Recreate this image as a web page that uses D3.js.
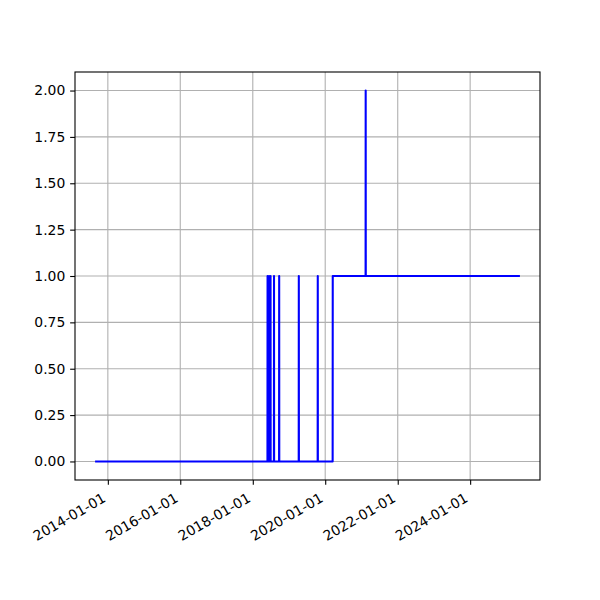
<!DOCTYPE html>
<html>
<head>
<meta charset="utf-8">
<script src="https://cdn.jsdelivr.net/npm/d3@7"></script>
<style>
  html, body { margin: 0; padding: 0; background: #fff; }
  text { font-family: "DejaVu Sans", sans-serif; }
</style>
</head>
<body>
<svg id="chart" width="600" height="600"></svg>
<script>
// ---- data ----
const dates = [
  "2013-09-05",
  "2018-05-29", "2018-05-30", "2018-05-31",
  "2018-06-13", "2018-06-14", "2018-06-15",
  "2018-06-28", "2018-06-29", "2018-06-30",
  "2018-08-02", "2018-08-03", "2018-08-04",
  "2018-09-23", "2018-09-24", "2018-09-25",
  "2019-04-09", "2019-04-10", "2019-04-11",
  "2019-10-17", "2019-10-18", "2019-10-19",
  "2020-03-16", "2020-03-17",
  "2021-02-11", "2021-02-12", "2021-02-13",
  "2025-05-06"
];
const values = [
  0,
  0, 1, 0,
  0, 1, 0,
  0, 1, 0,
  0, 1, 0,
  0, 1, 0,
  0, 1, 0,
  0, 1, 0,
  0, 1,
  1, 2, 1,
  1
];
const xTickLabels = ["2014-01-01", "2016-01-01", "2018-01-01", "2020-01-01", "2022-01-01", "2024-01-01"];
const yTickValues = [0, 0.25, 0.5, 0.75, 1.0, 1.25, 1.5, 1.75, 2.0];

(function () {
  // ---- layout ----
  const W = 600, H = 600;
  const mLeft = 75, mRight = 540, mTop = 72, mBottom = 480;
  const fs = 13.9;

  const parse = d3.timeParse("%Y-%m-%d");
  const pts = dates.map((d, i) => ({ t: parse(d), v: values[i] }));

  const tExt = d3.extent(pts, d => d.t);
  const span = tExt[1] - tExt[0];
  const x = d3.scaleTime()
    .domain([new Date(+tExt[0] - span * 0.05), new Date(+tExt[1] + span * 0.05)])
    .range([mLeft, mRight]);
  const vMin = d3.min(values), vMax = d3.max(values);
  const vSpan = vMax - vMin;
  const y = d3.scaleLinear()
    .domain([vMin - vSpan * 0.05, vMax + vSpan * 0.05])
    .range([mBottom, mTop]);

  const svg = d3.select("#chart");
  svg.append("rect").attr("width", W).attr("height", H).attr("fill", "#fff");

  const xTicks = xTickLabels.map(parse);

  // grid
  const grid = svg.append("g").attr("stroke", "#b0b0b0").attr("stroke-width", 1.1);
  grid.selectAll("line.gx").data(xTicks).join("line").attr("class", "gx")
    .attr("x1", d => x(d)).attr("x2", d => x(d))
    .attr("y1", mTop).attr("y2", mBottom);
  grid.selectAll("line.gy").data(yTickValues).join("line").attr("class", "gy")
    .attr("x1", mLeft).attr("x2", mRight)
    .attr("y1", d => y(d)).attr("y2", d => y(d));

  // data line
  const line = d3.line().x(d => x(d.t)).y(d => y(d.v));
  svg.append("path").datum(pts)
    .attr("d", line)
    .attr("fill", "none")
    .attr("stroke", "#0000ff")
    .attr("stroke-width", 2.08)
    .attr("stroke-linejoin", "round")
    .attr("stroke-linecap", "square");

  // spines
  svg.append("rect")
    .attr("x", mLeft).attr("y", mTop)
    .attr("width", mRight - mLeft).attr("height", mBottom - mTop)
    .attr("fill", "none").attr("stroke", "#000").attr("stroke-width", 1.1);

  // y axis
  const yAxis = d3.axisLeft(y).tickValues(yTickValues).tickFormat(d3.format(".2f"))
    .tickSize(4.86).tickPadding(4.86);
  const gy = svg.append("g").attr("transform", `translate(${mLeft},0)`).call(yAxis);
  gy.select(".domain").remove();
  gy.selectAll(".tick line").attr("stroke", "#000").attr("stroke-width", 1.1);
  gy.selectAll(".tick text").attr("font-size", fs).attr("fill", "#000")
    .attr("font-family", "DejaVu Sans");

  // x axis
  const xAxis = d3.axisBottom(x).tickValues(xTicks).tickFormat((d, i) => xTickLabels[i])
    .tickSize(4.86).tickPadding(4.86);
  const gx = svg.append("g").attr("transform", `translate(0,${mBottom})`).call(xAxis);
  gx.select(".domain").remove();
  gx.selectAll(".tick line").attr("stroke", "#000").attr("stroke-width", 1.1);
  const h = fs * 1.164, desc = fs * 0.236;
  gx.selectAll(".tick text")
    .attr("font-size", fs).attr("fill", "#000").attr("font-family", "DejaVu Sans")
    .attr("text-anchor", "end")
    .attr("dy", null)
    .attr("x", 0).attr("y", -desc)
    .attr("transform", `translate(0,${4.86 + 4.86 + h * Math.cos(Math.PI / 6)}) rotate(-30)`);
})();
</script>
</body>
</html>
